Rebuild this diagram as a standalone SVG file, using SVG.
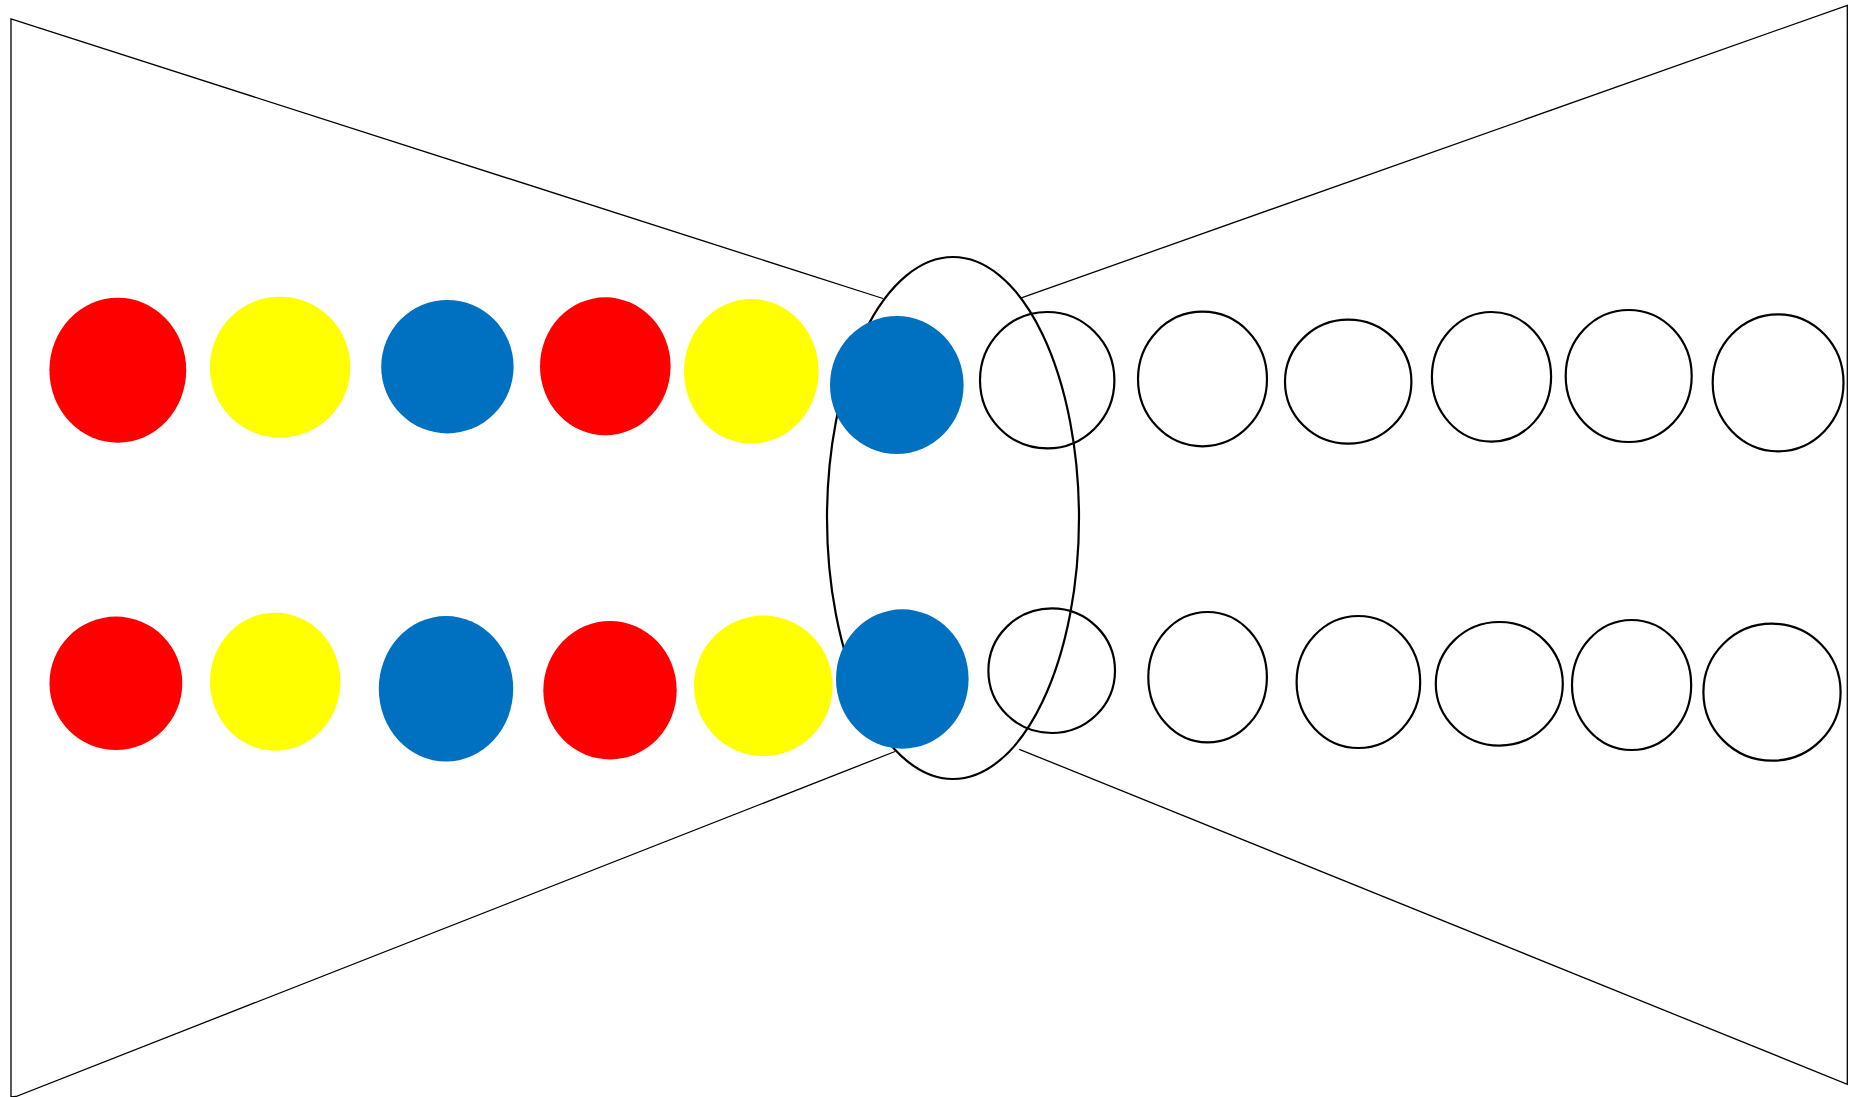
<svg xmlns="http://www.w3.org/2000/svg" width="1863" height="1097" viewBox="0 0 1863 1097">
<style>
.ln{stroke:#000;stroke-width:1.3;fill:none}
.big{stroke:#000;stroke-width:2.2;fill:none}
.r{fill:#ff0000}
.y{fill:#ffff00}
.b{fill:#0070c0}
.o{fill:none;stroke:#000;stroke-width:2.2}
</style>
<rect width="1863" height="1097" fill="#fff"/>
<g id="connectors">
<polyline class="ln" points="883,298.5 11,19 11,1097 16,1096.5 895,751.5"/>
<polyline class="ln" points="1020,298.3 1847.3,5.3 1847.3,1084.3 1019.3,749.3"/>
</g>
<g id="ring"><ellipse class="big" cx="953" cy="518" rx="126" ry="261"/></g>
<g id="top-row-filled">
<g id="t1"><ellipse class="r" cx="117.8" cy="370.2" rx="68.4" ry="72.5"/></g>
<g id="t2"><ellipse class="y" cx="280.1" cy="367.2" rx="70.2" ry="70.5"/></g>
<g id="t3"><ellipse class="b" cx="447.4" cy="366.7" rx="66.2" ry="66.7"/></g>
<g id="t4"><ellipse class="r" cx="605.3" cy="366.3" rx="65.3" ry="69"/></g>
<g id="t5"><ellipse class="y" cx="751.3" cy="371.3" rx="67.3" ry="72.3"/></g>
<g id="t6"><ellipse class="b" cx="896.8" cy="385" rx="66.8" ry="69"/></g>
</g>
<g id="bottom-row-filled">
<g id="b1"><ellipse class="r" cx="115.9" cy="683.3" rx="66.4" ry="66.7"/></g>
<g id="b2"><ellipse class="y" cx="275.2" cy="681.7" rx="65.2" ry="69"/></g>
<g id="b3"><ellipse class="b" cx="446" cy="688.8" rx="67.2" ry="72.8"/></g>
<g id="b4"><ellipse class="r" cx="610" cy="690.2" rx="66.7" ry="69.2"/></g>
<g id="b5"><ellipse class="y" cx="763.3" cy="685.8" rx="69.3" ry="70.2"/></g>
<g id="b6"><ellipse class="b" cx="902.3" cy="679" rx="66.3" ry="69.7"/></g>
</g>
<g id="top-row-empty">
<g id="t7"><ellipse class="o" cx="1047.2" cy="380.2" rx="67.2" ry="68.2"/></g>
<g id="t8"><ellipse class="o" cx="1202.5" cy="379" rx="64.5" ry="67.3"/></g>
<g id="t9"><ellipse class="o" cx="1348.2" cy="381.7" rx="63.2" ry="62"/></g>
<g id="t10"><ellipse class="o" cx="1491.5" cy="376.8" rx="59.6" ry="64.8"/></g>
<g id="t11"><ellipse class="o" cx="1628.7" cy="376" rx="63" ry="66"/></g>
<g id="t12"><ellipse class="o" cx="1778.1" cy="382.8" rx="65.4" ry="68.5"/></g>
</g>
<g id="bottom-row-empty">
<g id="b7"><ellipse class="o" cx="1051.7" cy="670.7" rx="63.3" ry="62.3"/></g>
<g id="b8"><ellipse class="o" cx="1207.6" cy="677.2" rx="59.3" ry="65.2"/></g>
<g id="b9"><ellipse class="o" cx="1358.4" cy="682" rx="61.8" ry="66"/></g>
<g id="b10"><ellipse class="o" cx="1499.3" cy="683.8" rx="63.5" ry="61.8"/></g>
<g id="b11"><ellipse class="o" cx="1631.6" cy="685" rx="59.6" ry="65"/></g>
<g id="b12"><ellipse class="o" cx="1772" cy="692.2" rx="68.6" ry="68.5"/></g>
</g>
</svg>
